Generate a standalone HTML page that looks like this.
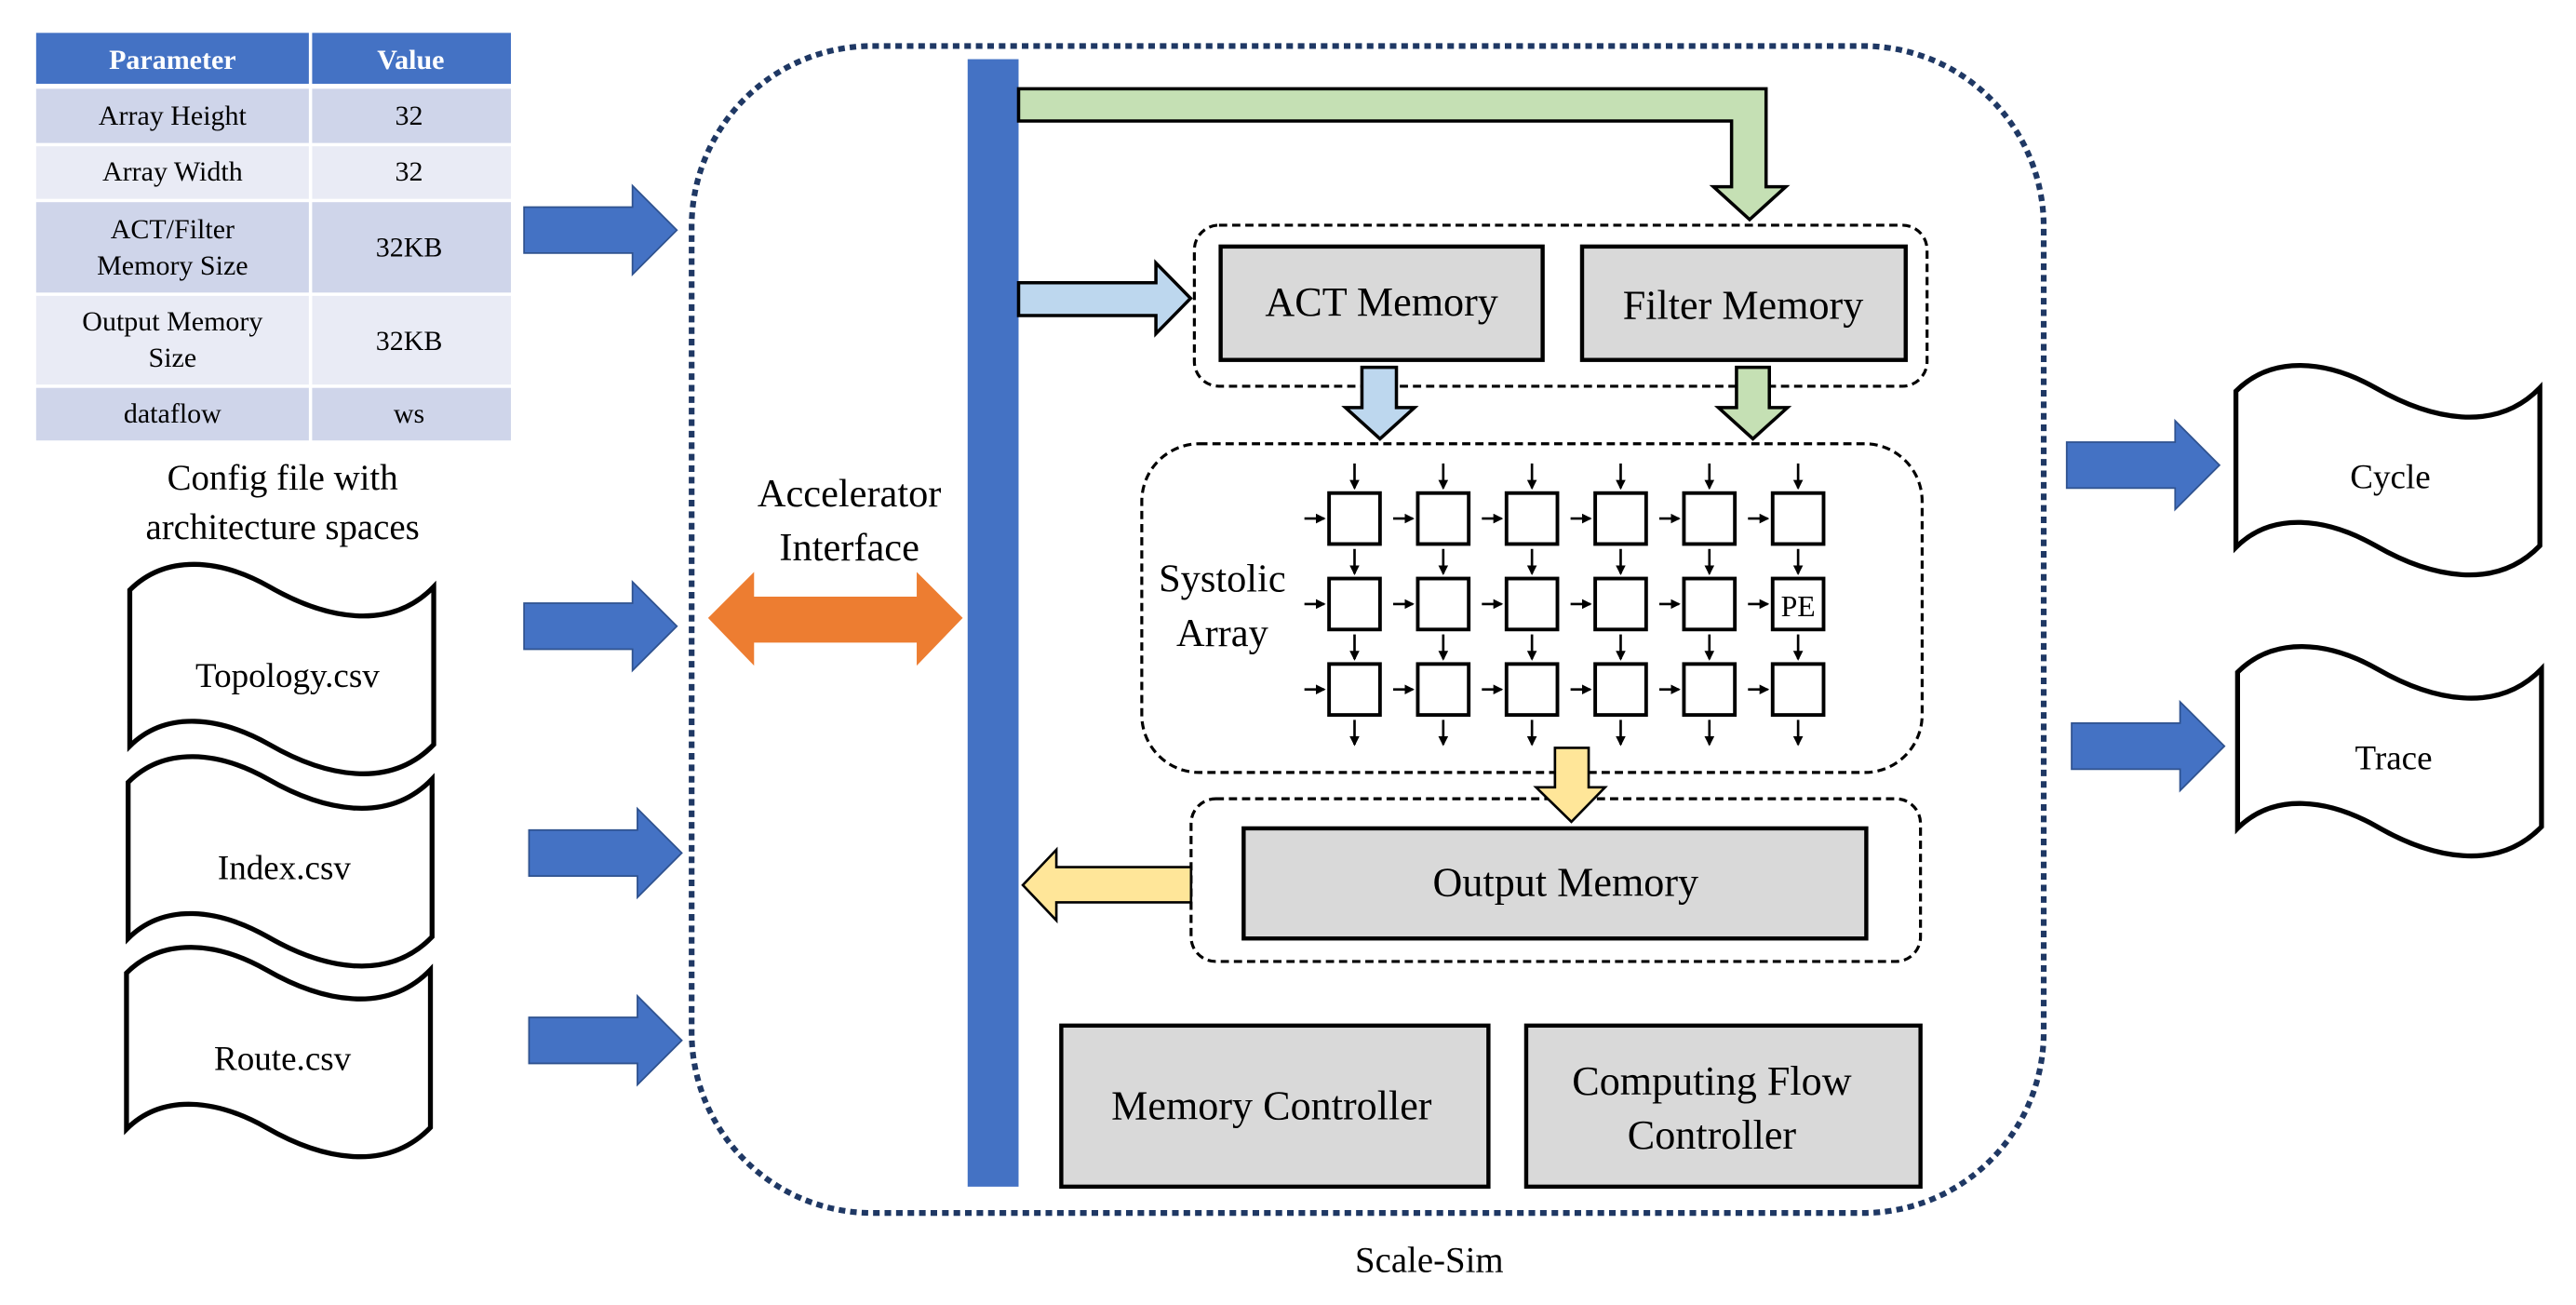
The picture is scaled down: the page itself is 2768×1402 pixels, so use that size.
<!DOCTYPE html>
<html><head><meta charset="utf-8"><style>
html,body{margin:0;padding:0;background:#fff;}
svg{display:block;}
svg, svg text{font-family:"Liberation Serif","Times New Roman","DejaVu Serif",serif !important;}
</style></head><body>
<svg width="2768" height="1402" viewBox="0 0 1568 794" preserveAspectRatio="none" xmlns="http://www.w3.org/2000/svg" font-family="'Liberation Serif', 'Times New Roman', 'DejaVu Serif', serif">
<defs>
<marker id="ah" markerWidth="6" markerHeight="6" refX="5" refY="3" orient="auto" markerUnits="userSpaceOnUse">
<path d="M0,0 L6,3 L0,6 Z" fill="#000"/>
</marker>
<path id="doc" d="M0,16 C22,-6 55,-3 85,14 C118,33 158,42 185,14 L185,110 C158,138 118,129 85,110 C55,93 22,89 0,111 Z" fill="#fff" stroke="#000" stroke-width="3"/>
<path id="barrow" d="M0,13 L66,13 L66,0 L93,27 L66,54 L66,41 L0,41 Z" fill="#4472c4" stroke="#2f528f" stroke-width="1"/>
<g id="vd"><line x1="0" y1="0" x2="0" y2="15" stroke="#000" stroke-width="1.5" marker-end="url(#ah)"/></g>
<g id="hd"><line x1="0" y1="0" x2="12" y2="0" stroke="#000" stroke-width="1.5" marker-end="url(#ah)"/></g>
</defs>

<!-- Table -->
<rect x="22" y="20" width="166" height="31" fill="#4472c4"/>
<rect x="190" y="20" width="121" height="31" fill="#4472c4"/>
<text x="105" y="42" font-size="17" font-weight="bold" text-anchor="middle" fill="#fff">Parameter</text>
<text x="250" y="42" font-size="17" font-weight="bold" text-anchor="middle" fill="#fff">Value</text>
<rect x="22" y="54" width="166" height="33" fill="#cfd5ea"/><rect x="190" y="54" width="121" height="33" fill="#cfd5ea"/>
<rect x="22" y="89" width="166" height="32" fill="#e9ebf5"/><rect x="190" y="89" width="121" height="32" fill="#e9ebf5"/>
<rect x="22" y="123" width="166" height="55" fill="#cfd5ea"/><rect x="190" y="123" width="121" height="55" fill="#cfd5ea"/>
<rect x="22" y="180" width="166" height="54" fill="#e9ebf5"/><rect x="190" y="180" width="121" height="54" fill="#e9ebf5"/>
<rect x="22" y="236" width="166" height="32" fill="#cfd5ea"/><rect x="190" y="236" width="121" height="32" fill="#cfd5ea"/>
<g font-size="17" text-anchor="middle" fill="#000">
<text x="105" y="76">Array Height</text><text x="249" y="76">32</text>
<text x="105" y="110">Array Width</text><text x="249" y="110">32</text>
<text x="105" y="145">ACT/Filter</text><text x="105" y="167">Memory Size</text><text x="249" y="156">32KB</text>
<text x="105" y="201">Output Memory</text><text x="105" y="223">Size</text><text x="249" y="213">32KB</text>
<text x="105" y="257">dataflow</text><text x="249" y="257">ws</text>
</g>
<text x="172" y="298" font-size="22" text-anchor="middle">Config file with</text>
<text x="172" y="328" font-size="22" text-anchor="middle">architecture spaces</text>

<!-- Left docs -->
<use href="#doc" transform="translate(79,343)"/>
<use href="#doc" transform="translate(78,460)"/>
<use href="#doc" transform="translate(77,576)"/>
<text x="175" y="418" font-size="21" text-anchor="middle">Topology.csv</text>
<text x="173" y="535" font-size="21" text-anchor="middle">Index.csv</text>
<text x="172" y="651" font-size="21" text-anchor="middle">Route.csv</text>

<!-- Left blue arrows -->
<use href="#barrow" transform="translate(319,113)"/>
<use href="#barrow" transform="translate(319,354)"/>
<use href="#barrow" transform="translate(322,492)"/>
<use href="#barrow" transform="translate(322,606)"/>

<!-- Outer dotted -->
<rect x="421" y="28" width="823" height="710" rx="110" ry="110" fill="none" stroke="#1f3864" stroke-width="3.5" stroke-dasharray="4 3"/>
<text x="870" y="774" font-size="22" text-anchor="middle">Scale-Sim</text>

<!-- Accelerator Interface -->
<text x="517" y="308" font-size="24" text-anchor="middle">Accelerator</text>
<text x="517" y="341" font-size="24" text-anchor="middle">Interface</text>
<path d="M431,376 L459,348 L459,363 L558,363 L558,348 L586,376 L558,405 L558,391 L459,391 L459,405 Z" fill="#ed7d31"/>

<!-- Bus bar -->
<rect x="589" y="36" width="31" height="686" fill="#4472c4"/>

<!-- Green arrow -->
<path d="M620,54 L1075,54 L1075,113.6 L1087,113.6 L1065,133.6 L1043,113.6 L1054,113.6 L1054,73.6 L620,73.6 Z" fill="#c5e0b4" stroke="#000" stroke-width="2"/>

<!-- ACT/Filter group -->
<rect x="727" y="137" width="446" height="98" rx="15" fill="none" stroke="#000" stroke-width="1.8" stroke-dasharray="5 3"/>
<rect x="743" y="150" width="196" height="69" fill="#d9d9d9" stroke="#000" stroke-width="2.5"/>
<rect x="963" y="150" width="197" height="69" fill="#d9d9d9" stroke="#000" stroke-width="2.5"/>
<text x="841" y="192" font-size="25" text-anchor="middle">ACT Memory</text>
<text x="1061" y="194" font-size="25" text-anchor="middle">Filter Memory</text>

<!-- Light blue arrow -->
<path d="M620,172 L703.6,172 L703.6,160 L724.7,181.5 L703.6,203 L703.6,192 L620,192 Z" fill="#bdd7ee" stroke="#000" stroke-width="2"/>

<!-- Down arrows -->
<path d="M829,223.5 L850,223.5 L850,248 L861,248 L840,267 L819,248 L829,248 Z" fill="#bdd7ee" stroke="#000" stroke-width="2"/>
<path d="M1057,223.5 L1077,223.5 L1077,248 L1088,248 L1067,267 L1046,248 L1057,248 Z" fill="#c5e0b4" stroke="#000" stroke-width="2"/>

<!-- Systolic group -->
<rect x="695" y="270" width="475" height="200" rx="35" fill="none" stroke="#000" stroke-width="1.8" stroke-dasharray="5 3"/>
<text x="744" y="360" font-size="24" text-anchor="middle">Systolic</text>
<text x="744" y="393" font-size="24" text-anchor="middle">Array</text>

<g fill="#fff" stroke="#000" stroke-width="2.2">
<rect x="809" y="300" width="31" height="31"/><rect x="863" y="300" width="31" height="31"/><rect x="917" y="300" width="31" height="31"/><rect x="971" y="300" width="31" height="31"/><rect x="1025" y="300" width="31" height="31"/><rect x="1079" y="300" width="31" height="31"/>
<rect x="809" y="352" width="31" height="31"/><rect x="863" y="352" width="31" height="31"/><rect x="917" y="352" width="31" height="31"/><rect x="971" y="352" width="31" height="31"/><rect x="1025" y="352" width="31" height="31"/><rect x="1079" y="352" width="31" height="31"/>
<rect x="809" y="404" width="31" height="31"/><rect x="863" y="404" width="31" height="31"/><rect x="917" y="404" width="31" height="31"/><rect x="971" y="404" width="31" height="31"/><rect x="1025" y="404" width="31" height="31"/><rect x="1079" y="404" width="31" height="31"/>
</g>
<text x="1094.5" y="375" font-size="18" text-anchor="middle">PE</text>
<g>
<use href="#vd" x="824.5" y="282"/><use href="#vd" x="878.5" y="282"/><use href="#vd" x="932.5" y="282"/><use href="#vd" x="986.5" y="282"/><use href="#vd" x="1040.5" y="282"/><use href="#vd" x="1094.5" y="282"/>
<use href="#vd" x="824.5" y="334"/><use href="#vd" x="878.5" y="334"/><use href="#vd" x="932.5" y="334"/><use href="#vd" x="986.5" y="334"/><use href="#vd" x="1040.5" y="334"/><use href="#vd" x="1094.5" y="334"/>
<use href="#vd" x="824.5" y="386"/><use href="#vd" x="878.5" y="386"/><use href="#vd" x="932.5" y="386"/><use href="#vd" x="986.5" y="386"/><use href="#vd" x="1040.5" y="386"/><use href="#vd" x="1094.5" y="386"/>
<use href="#vd" x="824.5" y="438"/><use href="#vd" x="878.5" y="438"/><use href="#vd" x="932.5" y="438"/><use href="#vd" x="986.5" y="438"/><use href="#vd" x="1040.5" y="438"/><use href="#vd" x="1094.5" y="438"/>
</g>
<g>
<use href="#hd" x="794" y="315.5"/><use href="#hd" x="848" y="315.5"/><use href="#hd" x="902" y="315.5"/><use href="#hd" x="956" y="315.5"/><use href="#hd" x="1010" y="315.5"/><use href="#hd" x="1064" y="315.5"/>
<use href="#hd" x="794" y="367.5"/><use href="#hd" x="848" y="367.5"/><use href="#hd" x="902" y="367.5"/><use href="#hd" x="956" y="367.5"/><use href="#hd" x="1010" y="367.5"/><use href="#hd" x="1064" y="367.5"/>
<use href="#hd" x="794" y="419.5"/><use href="#hd" x="848" y="419.5"/><use href="#hd" x="902" y="419.5"/><use href="#hd" x="956" y="419.5"/><use href="#hd" x="1010" y="419.5"/><use href="#hd" x="1064" y="419.5"/>
</g>

<!-- Output group -->
<rect x="725" y="486" width="444" height="99" rx="15" fill="none" stroke="#000" stroke-width="1.8" stroke-dasharray="5 3"/>
<rect x="757" y="504" width="379" height="67" fill="#d9d9d9" stroke="#000" stroke-width="2.5"/>
<text x="953" y="545" font-size="25" text-anchor="middle">Output Memory</text>
<path d="M946.5,455 L967,455 L967,479 L977,479 L956.5,500 L935,479 L946.5,479 Z" fill="#ffe699" stroke="#000" stroke-width="1.5"/>
<path d="M725,527.6 L643,527.6 L643,517 L622.6,538.5 L643,560 L643,549 L725,549 Z" fill="#ffe699" stroke="#000" stroke-width="1.5"/>

<!-- Controllers -->
<rect x="646" y="624" width="260" height="98" fill="#d9d9d9" stroke="#000" stroke-width="2.5"/>
<rect x="929" y="624" width="240" height="98" fill="#d9d9d9" stroke="#000" stroke-width="2.5"/>
<text x="774" y="681" font-size="25" text-anchor="middle">Memory Controller</text>
<text x="1042" y="666" font-size="25" text-anchor="middle">Computing Flow</text>
<text x="1042" y="699" font-size="25" text-anchor="middle">Controller</text>

<!-- Right side -->
<use href="#barrow" transform="translate(1258,256)"/>
<use href="#barrow" transform="translate(1261,427)"/>
<use href="#doc" transform="translate(1361,222)"/>
<use href="#doc" transform="translate(1362,393)"/>
<text x="1455" y="297" font-size="21" text-anchor="middle">Cycle</text>
<text x="1457" y="468" font-size="21" text-anchor="middle">Trace</text>
</svg>
</body></html>
